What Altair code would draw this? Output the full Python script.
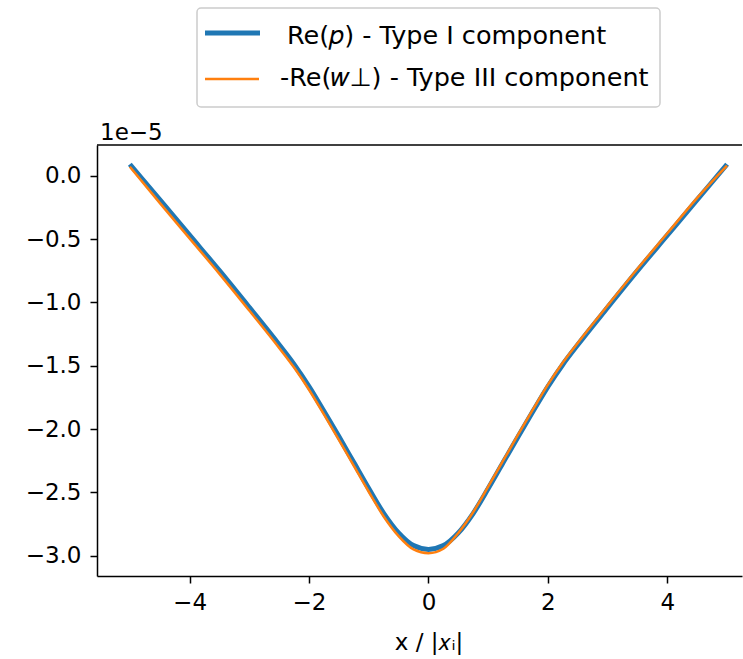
import altair as alt
import pandas as pd

# x / |x_i|
x_vals = [-5.0, -4.5, -4.0, -3.5, -3.0, -2.5, -2.25, -2.0, -1.75, -1.5, -1.25, -1.0,
          -0.75, -0.5, -0.25, 0.0, 0.25, 0.5, 0.75, 1.0, 1.25, 1.5, 1.75, 2.0,
          2.25, 2.5, 3.0, 3.5, 4.0, 4.5, 5.0]

# values in units of 1e-5
re_p = [0.09, -0.19, -0.47, -0.75, -1.04, -1.335, -1.49, -1.665, -1.86, -2.06, -2.265, -2.47,
        -2.665, -2.82, -2.92, -2.95, -2.92, -2.82, -2.665, -2.47, -2.265, -2.06, -1.86, -1.665,
        -1.49, -1.335, -1.04, -0.75, -0.47, -0.19, 0.09]
re_w = [0.07, -0.215, -0.495, -0.775, -1.065, -1.36, -1.515, -1.69, -1.885, -2.085, -2.29, -2.495,
        -2.69, -2.845, -2.95, -2.98, -2.945, -2.82, -2.655, -2.455, -2.25, -2.045, -1.845, -1.65,
        -1.475, -1.32, -1.025, -0.735, -0.455, -0.175, 0.08]

series_labels = ["Re(𝑝) - Type I component", "-Re(𝑤⊥) - Type III component"]
series_colors = ["#1f77b4", "#ff7f0e"]
y_ticks = [-3.0, -2.5, -2.0, -1.5, -1.0, -0.5, 0.0]
x_ticks = [-4, -2, 0, 2, 4]

W, H = 645, 431
FONT = "DejaVu Sans"

xs = alt.Scale(domain=[-5.55, 5.25], nice=False, zero=False)
ys = alt.Scale(domain=[-3.16, 0.242], nice=False, zero=False)

x_axis = alt.Axis(values=x_ticks, format="d", grid=False, domainColor="black", domainWidth=1.5,
                  tickColor="black", tickSize=7, tickWidth=1.5, labelFontSize=23, labelFont=FONT,
                  labelColor="black", labelPadding=8, title="x / |𝑥ᵢ|", titleFont=FONT,
                  titleFontSize=23, titleFontWeight="normal", titleColor="black",
                  titleX=331.5, titleY=73, titleBaseline="alphabetic", titleAlign="center",
                  titleAnchor="start")
y_axis = alt.Axis(values=y_ticks, format=".1f", grid=False, domainColor="black", domainWidth=1.5,
                  tickColor="black", tickSize=7, tickWidth=1.5, labelFontSize=23, labelFont=FONT,
                  labelColor="black", labelPadding=9, title="")

df_p = pd.DataFrame({"x": x_vals, "y": re_p})
df_w = pd.DataFrame({"x": x_vals, "y": re_w})

line_p = alt.Chart(df_p).mark_line(color=series_colors[0], strokeWidth=5, interpolate="monotone").encode(
    x=alt.X("x:Q", scale=xs, axis=x_axis),
    y=alt.Y("y:Q", scale=ys, axis=y_axis),
)
line_w = alt.Chart(df_w).mark_line(color=series_colors[1], strokeWidth=2.5, interpolate="monotone").encode(
    x=alt.X("x:Q", scale=xs),
    y=alt.Y("y:Q", scale=ys),
)

one = pd.DataFrame({"k": [0]})

top_spine = alt.Chart(one).mark_rule(color="black", strokeWidth=1.5).encode(
    x=alt.value(0), x2=alt.value(W), y=alt.value(0))

offset_text = alt.Chart(one).mark_text(text="1e−5", font=FONT, fontSize=23, align="left",
                                       baseline="alphabetic", color="black").encode(
    x=alt.value(3), y=alt.value(-5))

legend_box = alt.Chart(one).mark_rect(fill="white", stroke="#cccccc", strokeWidth=1.5,
                                      cornerRadius=4).encode(
    x=alt.value(100), x2=alt.value(563), y=alt.value(-137), y2=alt.value(-38))

leg_line1 = alt.Chart(one).mark_rule(color=series_colors[0], strokeWidth=5).encode(
    x=alt.value(108), x2=alt.value(163), y=alt.value(-112))
leg_line2 = alt.Chart(one).mark_rule(color=series_colors[1], strokeWidth=2.5).encode(
    x=alt.value(108), x2=alt.value(162), y=alt.value(-66))

leg_text1 = alt.Chart(one).mark_text(text=series_labels[0], font=FONT, fontSize=25.5, align="left",
                                     baseline="alphabetic", color="black").encode(
    x=alt.value(190), y=alt.value(-101))
leg_text2 = alt.Chart(one).mark_text(text=series_labels[1], font=FONT, fontSize=25.5, align="left",
                                     baseline="alphabetic", color="black").encode(
    x=alt.value(183), y=alt.value(-59))

chart = alt.layer(
    line_p, line_w, top_spine, offset_text, legend_box, leg_line1, leg_line2, leg_text1, leg_text2
).properties(
    width=W, height=H,
    autosize=alt.AutoSizeParams(type="none"),
    padding={"left": 97, "top": 145, "right": 1, "bottom": 83},
    background="white",
).configure_view(stroke="transparent")

chart.save("out.html", embed_options={"renderer": "svg", "actions": False})
